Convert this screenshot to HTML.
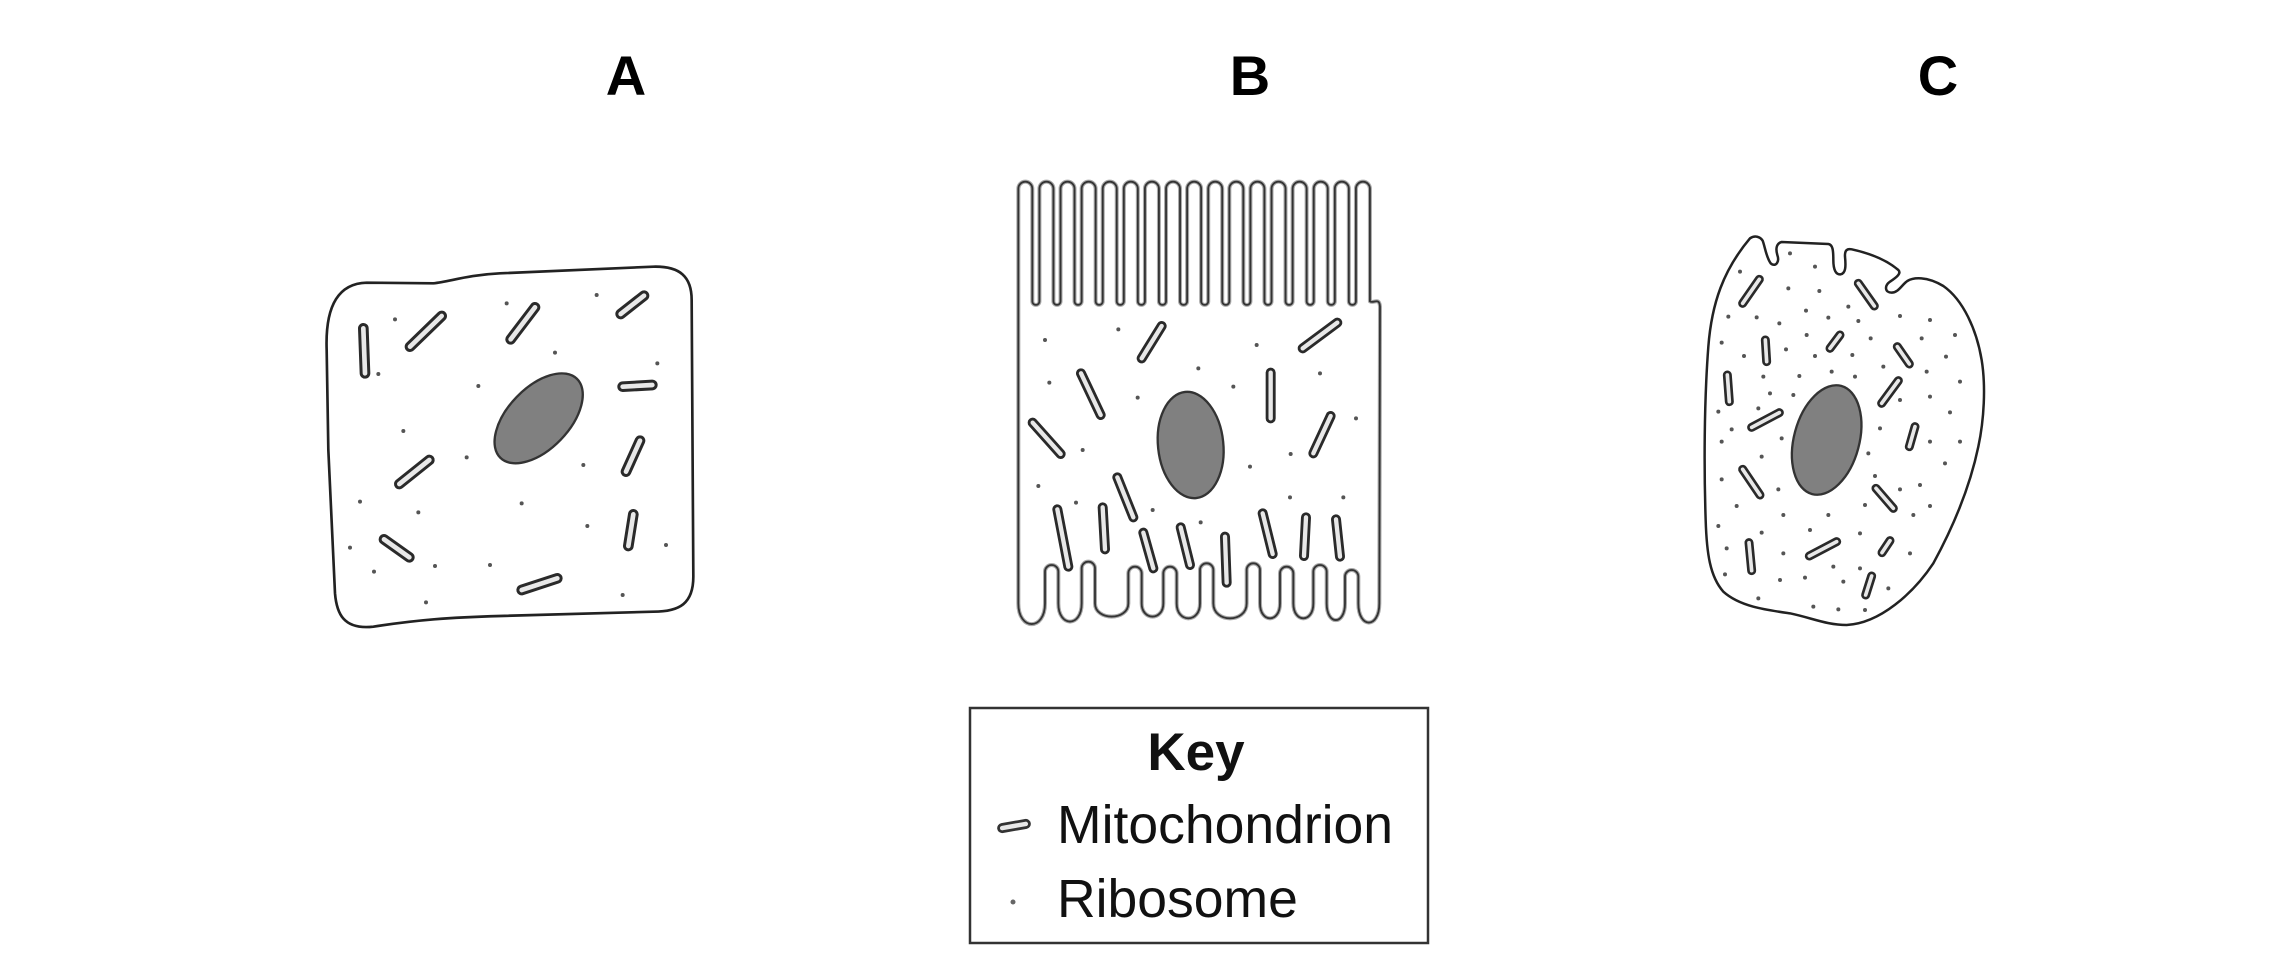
<!DOCTYPE html>
<html>
<head>
<meta charset="utf-8">
<style>
  html, body { margin: 0; padding: 0; background: #fff; }
  body { width: 2286px; height: 978px; overflow: hidden; position: relative; }
  svg { position: absolute; left: 0; top: 0; }
</style>
</head>
<body>
<svg width="2286" height="978" viewBox="0 0 2286 978" xmlns="http://www.w3.org/2000/svg">
  <defs>
    <path id="bpath" d="M 55 1300 L 55 56
      A 21 21 0 0 1 97 56 L 97 394 A 10.65 10.65 0 0 0 118.3 394 L 118.3 56
      A 21 21 0 0 1 160.3 56 L 160.3 394 A 10.65 10.65 0 0 0 181.6 394 L 181.6 56
      A 21 21 0 0 1 223.6 56 L 223.6 394 A 10.65 10.65 0 0 0 244.9 394 L 244.9 56
      A 21 21 0 0 1 286.9 56 L 286.9 394 A 10.65 10.65 0 0 0 308.2 394 L 308.2 56
      A 21 21 0 0 1 350.2 56 L 350.2 394 A 10.65 10.65 0 0 0 371.5 394 L 371.5 56
      A 21 21 0 0 1 413.5 56 L 413.5 394 A 10.65 10.65 0 0 0 434.8 394 L 434.8 56
      A 21 21 0 0 1 476.8 56 L 476.8 394 A 10.65 10.65 0 0 0 498.1 394 L 498.1 56
      A 21 21 0 0 1 540.1 56 L 540.1 394 A 10.65 10.65 0 0 0 561.4 394 L 561.4 56
      A 21 21 0 0 1 603.4 56 L 603.4 394 A 10.65 10.65 0 0 0 624.7 394 L 624.7 56
      A 21 21 0 0 1 666.7 56 L 666.7 394 A 10.65 10.65 0 0 0 688 394 L 688 56
      A 21 21 0 0 1 730 56 L 730 394 A 10.65 10.65 0 0 0 751.3 394 L 751.3 56
      A 21 21 0 0 1 793.3 56 L 793.3 394 A 10.65 10.65 0 0 0 814.6 394 L 814.6 56
      A 21 21 0 0 1 856.6 56 L 856.6 394 A 10.65 10.65 0 0 0 877.9 394 L 877.9 56
      A 21 21 0 0 1 919.9 56 L 919.9 394 A 10.65 10.65 0 0 0 941.2 394 L 941.2 56
      A 21 21 0 0 1 983.2 56 L 983.2 394 A 10.65 10.65 0 0 0 1004.5 394 L 1004.5 56
      A 21 21 0 0 1 1046.5 56 L 1046.5 394 A 10.65 10.65 0 0 0 1067.8 394 L 1067.8 56
      A 21 21 0 0 1 1109.8 56 L 1109.8 394
      C 1120 402, 1138 380, 1140 410 L 1138 1300
      C 1138 1377, 1075 1377, 1075 1300 L 1075 1220 A 20 20 0 0 0 1035 1220 L 1035 1300
      C 1035 1367, 980 1367, 980 1300 L 980 1205 A 20 20 0 0 0 940 1205 L 940 1300
      C 940 1360, 880 1360, 880 1300 L 880 1210 A 20 20 0 0 0 840 1210 L 840 1300
      C 840 1360, 780 1360, 780 1300 L 780 1200 A 20 20 0 0 0 740 1200 L 740 1300
      C 740 1360, 640 1360, 640 1300 L 640 1200 A 20 20 0 0 0 600 1200 L 600 1300
      C 600 1360, 530 1360, 530 1300 L 530 1210 A 20 20 0 0 0 490 1210 L 490 1300
      C 490 1353, 425 1353, 425 1300 L 425 1210 A 20 20 0 0 0 385 1210 L 385 1300
      C 385 1353, 285 1353, 285 1300 L 285 1195 A 20 20 0 0 0 245 1195 L 245 1300
      C 245 1373, 175 1373, 175 1300 L 175 1205 A 20 20 0 0 0 135 1205 L 135 1300
      C 135 1383, 55 1383, 55 1300 Z"/>
  </defs>
  <rect x="0" y="0" width="2286" height="978" fill="#fff"/>

  <!-- Labels -->
  <g font-family="Liberation Sans, Arial, sans-serif" font-weight="bold" font-size="56" fill="#000" text-anchor="middle">
    <text x="626" y="95">A</text>
    <text x="1250" y="95">B</text>
    <text x="1938" y="95">C</text>
  </g>

  <!-- ========== CELL A ========== -->
  <g transform="translate(300,250) scale(0.33333)">
    <path d="M 80 300 C 75 160, 120 100, 200 98 L 400 100 C 450 95, 500 75, 600 70 L 1060 50 C 1140 48, 1175 80, 1175 150 L 1180 980 C 1180 1060, 1140 1085, 1060 1085 L 600 1098 C 450 1102, 350 1110, 220 1130 C 130 1140, 110 1090, 105 1030 L 85 600 Z"
          fill="#fff" stroke="#222" stroke-width="8" stroke-linejoin="round"/>
    <ellipse cx="716" cy="505" rx="165" ry="92" transform="rotate(-46 716 505)" fill="#808080" stroke="#333" stroke-width="7"/>
    <g stroke="#2a2a2a" stroke-width="32" stroke-linecap="round">
      <line x1="190" y1="235" x2="195" y2="370"/>
      <line x1="330" y1="290" x2="425" y2="198"/>
      <line x1="632" y1="268" x2="705" y2="172"/>
      <line x1="962" y1="192" x2="1032" y2="137"/>
      <line x1="968" y1="410" x2="1057" y2="405"/>
      <line x1="978" y1="665" x2="1020" y2="572"/>
      <line x1="298" y1="702" x2="388" y2="630"/>
      <line x1="985" y1="888" x2="1000" y2="793"/>
      <line x1="252" y1="868" x2="328" y2="922"/>
      <line x1="665" y1="1020" x2="772" y2="985"/>
    </g>
    <g stroke="#e8e8e8" stroke-width="14" stroke-linecap="round">
      <line x1="190" y1="235" x2="195" y2="370"/>
      <line x1="330" y1="290" x2="425" y2="198"/>
      <line x1="632" y1="268" x2="705" y2="172"/>
      <line x1="962" y1="192" x2="1032" y2="137"/>
      <line x1="968" y1="410" x2="1057" y2="405"/>
      <line x1="978" y1="665" x2="1020" y2="572"/>
      <line x1="298" y1="702" x2="388" y2="630"/>
      <line x1="985" y1="888" x2="1000" y2="793"/>
      <line x1="252" y1="868" x2="328" y2="922"/>
      <line x1="665" y1="1020" x2="772" y2="985"/>
    </g>
    <g fill="#555">
      <circle cx="890" cy="135" r="6"/><circle cx="620" cy="160" r="6"/><circle cx="285" cy="208" r="6"/>
      <circle cx="765" cy="308" r="6"/><circle cx="1072" cy="340" r="6"/><circle cx="235" cy="372" r="6"/>
      <circle cx="535" cy="408" r="6"/><circle cx="310" cy="543" r="6"/><circle cx="500" cy="622" r="6"/>
      <circle cx="850" cy="645" r="6"/><circle cx="180" cy="755" r="6"/><circle cx="665" cy="760" r="6"/>
      <circle cx="355" cy="787" r="6"/><circle cx="862" cy="828" r="6"/><circle cx="1098" cy="885" r="6"/>
      <circle cx="150" cy="893" r="6"/><circle cx="405" cy="948" r="6"/><circle cx="570" cy="945" r="6"/>
      <circle cx="222" cy="965" r="6"/><circle cx="968" cy="1035" r="6"/><circle cx="378" cy="1057" r="6"/>
    </g>
  </g>

  <!-- ========== CELL B ========== -->
  <g transform="translate(1000,170) scale(0.33333)">
    <use href="#bpath" fill="#fff" stroke="#aaa" stroke-width="12" stroke-linejoin="round"/>
    <use href="#bpath" fill="none" stroke="#333" stroke-width="5.5" stroke-linejoin="round"/>
    <ellipse cx="572" cy="825" rx="98" ry="160" transform="rotate(-6 572 825)" fill="#808080" stroke="#333" stroke-width="7"/>
    <g stroke="#2a2a2a" stroke-width="30" stroke-linecap="round">
      <line x1="425" y1="565" x2="485" y2="468"/>
      <line x1="908" y1="535" x2="1012" y2="458"/>
      <line x1="243" y1="610" x2="302" y2="735"/>
      <line x1="812" y1="608" x2="812" y2="745"/>
      <line x1="98" y1="758" x2="182" y2="852"/>
      <line x1="992" y1="738" x2="940" y2="850"/>
      <line x1="352" y1="922" x2="400" y2="1042"/>
      <line x1="172" y1="1018" x2="205" y2="1190"/>
      <line x1="308" y1="1012" x2="315" y2="1138"/>
      <line x1="430" y1="1088" x2="460" y2="1195"/>
      <line x1="542" y1="1072" x2="570" y2="1185"/>
      <line x1="675" y1="1100" x2="680" y2="1238"/>
      <line x1="788" y1="1030" x2="818" y2="1152"/>
      <line x1="918" y1="1042" x2="912" y2="1158"/>
      <line x1="1008" y1="1048" x2="1020" y2="1160"/>
    </g>
    <g stroke="#e8e8e8" stroke-width="13" stroke-linecap="round">
      <line x1="425" y1="565" x2="485" y2="468"/>
      <line x1="908" y1="535" x2="1012" y2="458"/>
      <line x1="243" y1="610" x2="302" y2="735"/>
      <line x1="812" y1="608" x2="812" y2="745"/>
      <line x1="98" y1="758" x2="182" y2="852"/>
      <line x1="992" y1="738" x2="940" y2="850"/>
      <line x1="352" y1="922" x2="400" y2="1042"/>
      <line x1="172" y1="1018" x2="205" y2="1190"/>
      <line x1="308" y1="1012" x2="315" y2="1138"/>
      <line x1="430" y1="1088" x2="460" y2="1195"/>
      <line x1="542" y1="1072" x2="570" y2="1185"/>
      <line x1="675" y1="1100" x2="680" y2="1238"/>
      <line x1="788" y1="1030" x2="818" y2="1152"/>
      <line x1="918" y1="1042" x2="912" y2="1158"/>
      <line x1="1008" y1="1048" x2="1020" y2="1160"/>
    </g>
    <g fill="#555">
      <circle cx="135" cy="510" r="6"/><circle cx="355" cy="478" r="6"/><circle cx="770" cy="525" r="6"/>
      <circle cx="148" cy="638" r="6"/><circle cx="595" cy="595" r="6"/><circle cx="700" cy="650" r="6"/>
      <circle cx="960" cy="610" r="6"/><circle cx="413" cy="683" r="6"/><circle cx="1068" cy="745" r="6"/>
      <circle cx="248" cy="840" r="6"/><circle cx="872" cy="852" r="6"/><circle cx="750" cy="890" r="6"/>
      <circle cx="115" cy="948" r="6"/><circle cx="228" cy="998" r="6"/><circle cx="458" cy="1020" r="6"/>
      <circle cx="870" cy="982" r="6"/><circle cx="1030" cy="982" r="6"/><circle cx="602" cy="1057" r="6"/>
    </g>
  </g>

  <!-- ========== CELL C ========== -->
  <g transform="translate(1680,220) scale(0.33333)">
    <path d="M 210 55
      C 225 45, 240 50, 248 62
      C 255 80, 258 110, 272 130
      C 285 142, 300 128, 292 105
      C 287 88, 288 70, 305 66
      L 445 72
      C 458 74, 460 90, 460 120
      C 460 150, 468 165, 482 163
      C 497 160, 498 140, 495 110
      C 494 92, 500 85, 515 88
      C 570 100, 620 120, 655 150
      C 665 160, 650 172, 630 185
      C 612 198, 615 218, 635 218
      C 655 218, 665 195, 682 183
      C 700 172, 740 168, 790 198
      C 850 240, 890 330, 905 420
      C 918 500, 912 600, 895 680
      C 870 800, 820 920, 760 1030
      C 700 1120, 600 1210, 500 1215
      C 440 1215, 400 1195, 330 1180
      C 260 1170, 180 1160, 130 1115
      C 90 1070, 80 1000, 77 900
      C 72 750, 72 550, 85 380
      C 95 250, 130 150, 210 55 Z"
      fill="#fff" stroke="#222" stroke-width="7.5" stroke-linejoin="round"/>
    <ellipse cx="440" cy="660" rx="98" ry="168" transform="rotate(15 440 660)" fill="#808080" stroke="#333" stroke-width="7"/>
    <g stroke="#2a2a2a" stroke-width="27" stroke-linecap="round">
      <line x1="188" y1="250" x2="238" y2="178"/>
      <line x1="535" y1="190" x2="583" y2="258"/>
      <line x1="256" y1="360" x2="260" y2="425"/>
      <line x1="450" y1="385" x2="480" y2="345"/>
      <line x1="652" y1="380" x2="688" y2="432"/>
      <line x1="142" y1="465" x2="148" y2="545"/>
      <line x1="605" y1="550" x2="655" y2="482"/>
      <line x1="215" y1="622" x2="298" y2="578"/>
      <line x1="688" y1="680" x2="705" y2="620"/>
      <line x1="188" y1="748" x2="240" y2="825"/>
      <line x1="588" y1="805" x2="640" y2="865"/>
      <line x1="207" y1="968" x2="215" y2="1052"/>
      <line x1="388" y1="1008" x2="470" y2="965"/>
      <line x1="606" y1="998" x2="630" y2="962"/>
      <line x1="557" y1="1125" x2="575" y2="1068"/>
    </g>
    <g stroke="#e8e8e8" stroke-width="11" stroke-linecap="round">
      <line x1="188" y1="250" x2="238" y2="178"/>
      <line x1="535" y1="190" x2="583" y2="258"/>
      <line x1="256" y1="360" x2="260" y2="425"/>
      <line x1="450" y1="385" x2="480" y2="345"/>
      <line x1="652" y1="380" x2="688" y2="432"/>
      <line x1="142" y1="465" x2="148" y2="545"/>
      <line x1="605" y1="550" x2="655" y2="482"/>
      <line x1="215" y1="622" x2="298" y2="578"/>
      <line x1="688" y1="680" x2="705" y2="620"/>
      <line x1="188" y1="748" x2="240" y2="825"/>
      <line x1="588" y1="805" x2="640" y2="865"/>
      <line x1="207" y1="968" x2="215" y2="1052"/>
      <line x1="388" y1="1008" x2="470" y2="965"/>
      <line x1="606" y1="998" x2="630" y2="962"/>
      <line x1="557" y1="1125" x2="575" y2="1068"/>
    </g>
    <g fill="#555">
      <circle cx="330" cy="100" r="6"/><circle cx="405" cy="140" r="6"/><circle cx="180" cy="155" r="6"/>
      <circle cx="325" cy="205" r="6"/><circle cx="418" cy="213" r="6"/><circle cx="505" cy="260" r="6"/>
      <circle cx="378" cy="272" r="6"/><circle cx="145" cy="290" r="6"/><circle cx="230" cy="292" r="6"/>
      <circle cx="298" cy="310" r="6"/><circle cx="445" cy="293" r="6"/><circle cx="535" cy="303" r="6"/>
      <circle cx="660" cy="288" r="6"/><circle cx="750" cy="300" r="6"/><circle cx="380" cy="345" r="6"/>
      <circle cx="572" cy="355" r="6"/><circle cx="725" cy="355" r="6"/><circle cx="825" cy="345" r="6"/>
      <circle cx="125" cy="368" r="6"/><circle cx="192" cy="408" r="6"/><circle cx="318" cy="388" r="6"/>
      <circle cx="405" cy="408" r="6"/><circle cx="517" cy="405" r="6"/><circle cx="798" cy="410" r="6"/>
      <circle cx="250" cy="470" r="6"/><circle cx="455" cy="455" r="6"/><circle cx="525" cy="470" r="6"/>
      <circle cx="358" cy="468" r="6"/><circle cx="610" cy="440" r="6"/><circle cx="740" cy="455" r="6"/>
      <circle cx="840" cy="485" r="6"/><circle cx="270" cy="520" r="6"/><circle cx="340" cy="525" r="6"/>
      <circle cx="750" cy="530" r="6"/><circle cx="115" cy="575" r="6"/><circle cx="235" cy="565" r="6"/>
      <circle cx="660" cy="540" r="6"/><circle cx="810" cy="577" r="6"/><circle cx="155" cy="628" r="6"/>
      <circle cx="305" cy="655" r="6"/><circle cx="600" cy="625" r="6"/><circle cx="750" cy="665" r="6"/>
      <circle cx="840" cy="665" r="6"/><circle cx="125" cy="665" r="6"/><circle cx="245" cy="710" r="6"/>
      <circle cx="565" cy="700" r="6"/><circle cx="795" cy="730" r="6"/><circle cx="295" cy="808" r="6"/>
      <circle cx="585" cy="768" r="6"/><circle cx="125" cy="778" r="6"/><circle cx="660" cy="808" r="6"/>
      <circle cx="720" cy="795" r="6"/><circle cx="170" cy="858" r="6"/><circle cx="555" cy="855" r="6"/>
      <circle cx="750" cy="858" r="6"/><circle cx="310" cy="885" r="6"/><circle cx="445" cy="885" r="6"/>
      <circle cx="700" cy="885" r="6"/><circle cx="115" cy="918" r="6"/><circle cx="245" cy="938" r="6"/>
      <circle cx="390" cy="930" r="6"/><circle cx="540" cy="940" r="6"/><circle cx="140" cy="985" r="6"/>
      <circle cx="310" cy="1000" r="6"/><circle cx="690" cy="1000" r="6"/><circle cx="460" cy="1040" r="6"/>
      <circle cx="540" cy="1045" r="6"/><circle cx="135" cy="1063" r="6"/><circle cx="300" cy="1080" r="6"/>
      <circle cx="375" cy="1073" r="6"/><circle cx="490" cy="1085" r="6"/><circle cx="625" cy="1105" r="6"/>
      <circle cx="235" cy="1135" r="6"/><circle cx="400" cy="1160" r="6"/><circle cx="475" cy="1168" r="6"/>
      <circle cx="555" cy="1170" r="6"/>
    </g>
  </g>

  <!-- ========== KEY ========== -->
  <rect x="970" y="708" width="458" height="235" fill="#fff" stroke="#333" stroke-width="2.5"/>
  <g font-family="Liberation Sans, Arial, sans-serif" fill="#111">
    <text x="1196" y="770" font-size="53" font-weight="bold" text-anchor="middle">Key</text>
    <text x="1057" y="843" font-size="53.5">Mitochondrion</text>
    <text x="1057" y="917" font-size="53.5">Ribosome</text>
  </g>
  <g transform="rotate(-10 1014 826)">
    <line x1="1002" y1="826" x2="1026" y2="826" stroke="#333" stroke-width="10" stroke-linecap="round"/>
    <line x1="1002" y1="826" x2="1026" y2="826" stroke="#e8e8e8" stroke-width="4.5" stroke-linecap="round"/>
  </g>
  <circle cx="1013" cy="902" r="2.5" fill="#666"/>
</svg>
</body>
</html>
